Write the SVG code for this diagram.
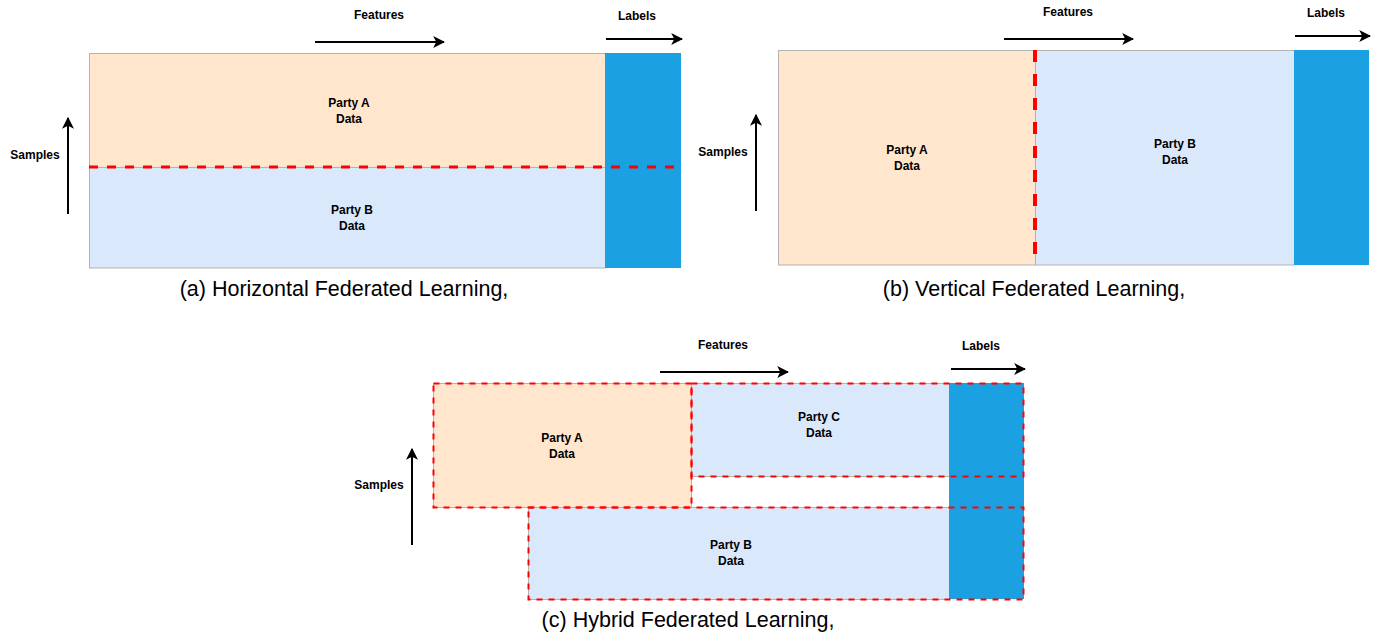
<svg xmlns="http://www.w3.org/2000/svg" width="1377" height="637" viewBox="0 0 1377 637">
<style>
.t{font-family:"Liberation Sans",Arial,sans-serif;font-size:12px;font-weight:bold;fill:#000;text-anchor:middle;dominant-baseline:central}
.cap{font-family:"Liberation Sans",Arial,sans-serif;font-size:21.5px;fill:#000;text-anchor:middle;dominant-baseline:central}
.pa{fill:#ffe6cc;stroke:#b3b3b3;stroke-width:1}
.pb{fill:#dae8fc;stroke:#b3b3b3;stroke-width:1}
.lb{fill:#1ba1e2;stroke:none}
.arr{stroke:#000;stroke-width:2;fill:none;marker-end:url(#ah)}
.d3{stroke:#ff0000;stroke-width:3;stroke-dasharray:9 9;fill:none}
.d4{stroke:#ff0000;stroke-width:4;stroke-dasharray:12 12;fill:none}
.d2{stroke:#ff0000;stroke-width:2;stroke-dasharray:6 6;fill:none}
</style>
<defs>
<marker id="ah" viewBox="0 0 10 10" refX="9" refY="5" markerWidth="6" markerHeight="6" markerUnits="strokeWidth" orient="auto">
<path d="M0,0 L10,5 L0,10 L2.5,5 Z" fill="#000"/>
</marker>
</defs>

<!-- Panel a -->
<g id="a-partyA"><rect class="pa" x="89.5" y="53.5" width="516" height="114"/><text class="t" x="349" y="103">Party A</text><text class="t" x="349" y="119">Data</text></g>
<g id="a-partyB"><rect class="pb" x="89.5" y="167.5" width="516" height="100.5"/><text class="t" x="352" y="210">Party B</text><text class="t" x="352" y="226">Data</text></g>
<g id="a-labels"><rect class="lb" x="605" y="53" width="76" height="215"/></g>
<g id="a-split"><line class="d3" x1="89" y1="167" x2="681" y2="167"/></g>
<g id="a-text"><text class="t" x="379" y="15">Features</text><text class="t" x="637" y="16">Labels</text><text class="t" x="35" y="155">Samples</text><text class="cap" x="344" y="289">(a) Horizontal Federated Learning,</text></g>

<!-- Panel b -->
<g id="b-partyA"><rect class="pa" x="778.5" y="50.5" width="257" height="214.5"/><text class="t" x="907" y="150">Party A</text><text class="t" x="907" y="166">Data</text></g>
<g id="b-partyB"><rect class="pb" x="1035.5" y="50.5" width="259" height="214.5"/><text class="t" x="1175" y="144">Party B</text><text class="t" x="1175" y="160">Data</text></g>
<g id="b-labels"><rect class="lb" x="1294" y="50" width="75" height="215"/></g>
<g id="b-split"><line class="d4" x1="1035" y1="50" x2="1035" y2="265"/></g>
<g id="b-text"><text class="t" x="1068" y="12">Features</text><text class="t" x="1326" y="13">Labels</text><text class="t" x="723" y="152">Samples</text><text class="cap" x="1034" y="289">(b) Vertical Federated Learning,</text></g>

<!-- Panel c -->
<g id="c-partyA"><rect class="pa" x="433.5" y="383.5" width="258" height="124"/><text class="t" x="562" y="438">Party A</text><text class="t" x="562" y="454">Data</text></g>
<g id="c-partyC"><rect class="pb" x="691.5" y="383.5" width="258" height="93"/><text class="t" x="819" y="417">Party C</text><text class="t" x="819" y="433">Data</text></g>
<g id="c-partyB"><rect class="pb" x="528.5" y="507.5" width="421" height="92"/><text class="t" x="731" y="545">Party B</text><text class="t" x="731" y="561">Data</text></g>
<g id="c-labels"><rect class="lb" x="949" y="383" width="75" height="216"/></g>
<g id="c-outlines">
<rect class="d2" x="433.5" y="383.5" width="258" height="124"/>
<rect class="d2" x="691.5" y="383.5" width="332" height="93"/>
<rect class="d2" x="528.5" y="507.5" width="495" height="92"/>
</g>
<g id="c-text"><text class="t" x="723" y="345">Features</text><text class="t" x="981" y="346">Labels</text><text class="t" x="379" y="485">Samples</text><text class="cap" x="688" y="620">(c) Hybrid Federated Learning,</text></g>

<!-- Connectors -->
<g id="connectors">
<line class="arr" x1="315" y1="42" x2="444" y2="42"/>
<line class="arr" x1="606" y1="39" x2="682" y2="39"/>
<line class="arr" x1="68" y1="214" x2="68" y2="118"/>
<line class="arr" x1="1004" y1="39" x2="1133" y2="39"/>
<line class="arr" x1="1295" y1="36" x2="1370" y2="36"/>
<line class="arr" x1="756" y1="211" x2="756" y2="115"/>
<line class="arr" x1="660" y1="372" x2="788" y2="372"/>
<line class="arr" x1="951" y1="369" x2="1025" y2="369"/>
<line class="arr" x1="412" y1="545" x2="412" y2="449"/>
</g>
</svg>
